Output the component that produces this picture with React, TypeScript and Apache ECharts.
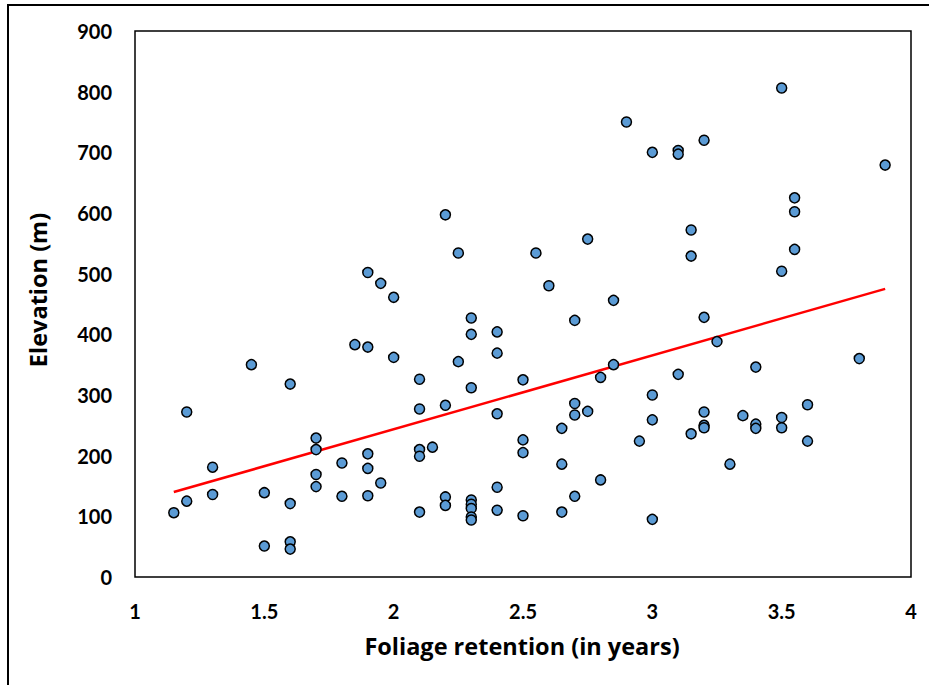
import React, { useEffect, useRef } from "react";
import * as echarts from "echarts";

const xValues = [
  1.15, 1.2, 1.2, 1.3, 1.3, 1.45, 1.5, 1.5, 1.6, 1.6, 1.6, 1.6,
  1.7, 1.7, 1.7, 1.7, 1.8, 1.8, 1.85, 1.9, 1.9, 1.9, 1.9, 1.9,
  1.95, 1.95, 2.0, 2.0, 2.1, 2.1, 2.1, 2.1, 2.1, 2.15, 2.2, 2.2,
  2.2, 2.2, 2.25, 2.25, 2.3, 2.3, 2.3, 2.3, 2.3, 2.3, 2.3, 2.3,
  2.4, 2.4, 2.4, 2.4, 2.4, 2.5, 2.5, 2.5, 2.5, 2.55, 2.6, 2.65,
  2.65, 2.65, 2.7, 2.7, 2.7, 2.7, 2.75, 2.75, 2.8, 2.8, 2.85, 2.85,
  2.9, 2.95, 3.0, 3.0, 3.0, 3.0, 3.1, 3.1, 3.1, 3.15, 3.15, 3.15,
  3.2, 3.2, 3.2, 3.2, 3.2, 3.25, 3.3, 3.35, 3.4, 3.4, 3.4, 3.5,
  3.5, 3.5, 3.5, 3.55, 3.55, 3.55, 3.6, 3.6, 3.8, 3.9,
];
const yValues = [
  106, 125, 272, 181, 136, 350, 139, 51, 318, 121, 58, 46,
  229, 210, 169, 149, 188, 133, 383, 502, 379, 203, 179, 134,
  484, 155, 461, 362, 326, 277, 210, 199, 107, 214, 597, 283,
  132, 118, 534, 355, 427, 400, 312, 127, 120, 113, 99, 94,
  404, 369, 269, 148, 110, 325, 226, 205, 101, 534, 480, 245,
  186, 107, 423, 286, 267, 133, 557, 273, 329, 160, 456, 350,
  750, 224, 700, 300, 259, 95, 703, 697, 334, 236, 572, 529,
  720, 428, 272, 250, 246, 388, 186, 266, 346, 252, 245, 806,
  504, 263, 246, 625, 602, 540, 284, 224, 360, 679,
];
const trendX = [1.15, 3.9];
const trendY = [140, 475];
const xTicks = { min: 1, max: 4, interval: 0.5 };
const yTicks = { min: 0, max: 900, interval: 100 };
const xTitle = "Foliage retention (in years)";
const yTitle = "Elevation (m)";

const FONT = "Lato";
const TITLE_FONT = "Open Sans";

export default function App() {
  const ref = useRef<HTMLDivElement>(null);
  useEffect(() => {
    document.body.style.margin = "0";
    const chart = echarts.init(ref.current!, null, { renderer: "svg" });
    const points = xValues.map((x, i) => [x, yValues[i]]);
    const trend = trendX.map((x, i) => [x, trendY[i]]);
    chart.setOption({
      animation: false,
      backgroundColor: "#ffffff",
      grid: {
        left: 135,
        top: 31,
        right: 18,
        bottom: 108,
        show: true,
        borderColor: "#000000",
        borderWidth: 1.5,
        backgroundColor: "transparent",
      },
      xAxis: {
        type: "value",
        min: xTicks.min,
        max: xTicks.max,
        interval: xTicks.interval,
        axisLine: { show: false },
        axisTick: { show: false },
        splitLine: { show: false },
        axisLabel: {
          color: "#000",
          fontFamily: FONT,
          fontWeight: "bold",
          fontSize: 20,
          margin: 24,
        },
      },
      yAxis: {
        type: "value",
        min: yTicks.min,
        max: yTicks.max,
        interval: yTicks.interval,
        axisLine: { show: false },
        axisTick: { show: false },
        splitLine: { show: false },
        axisLabel: {
          color: "#000",
          fontFamily: FONT,
          fontWeight: "bold",
          fontSize: 20,
          margin: 23,
        },
      },
      graphic: [
        {
          type: "rect",
          silent: true,
          shape: { x: 8, y: 5, width: 960, height: 720 },
          style: { fill: "transparent", stroke: "#000", lineWidth: 2 },
        },
        {
          type: "text",
          x: 522,
          y: 646,
          style: {
            text: xTitle,
            fontFamily: TITLE_FONT,
            fontWeight: "bold",
            fontSize: 23.5,
            fill: "#000",
            textAlign: "center",
            textVerticalAlign: "middle",
          },
        },
        {
          type: "text",
          x: 38,
          y: 290,
          rotation: Math.PI / 2,
          style: {
            text: yTitle,
            fontFamily: TITLE_FONT,
            fontWeight: "bold",
            fontSize: 23.5,
            fill: "#000",
            textAlign: "center",
            textVerticalAlign: "middle",
          },
        },
      ],
      series: [
        {
          type: "line",
          data: trend,
          showSymbol: false,
          symbol: "none",
          lineStyle: { color: "#FF0000", width: 2.5 },
          z: 3,
        },
        {
          type: "scatter",
          data: points,
          symbol: "circle",
          symbolSize: 10,
          itemStyle: {
            color: "#5B9BD5",
            borderColor: "#000000",
            borderWidth: 1.5,
            opacity: 1,
          },
          z: 4,
        },
      ],
    });
    return () => chart.dispose();
  }, []);
  return <div ref={ref} style={{ width: 929, height: 685 }} />;
}
